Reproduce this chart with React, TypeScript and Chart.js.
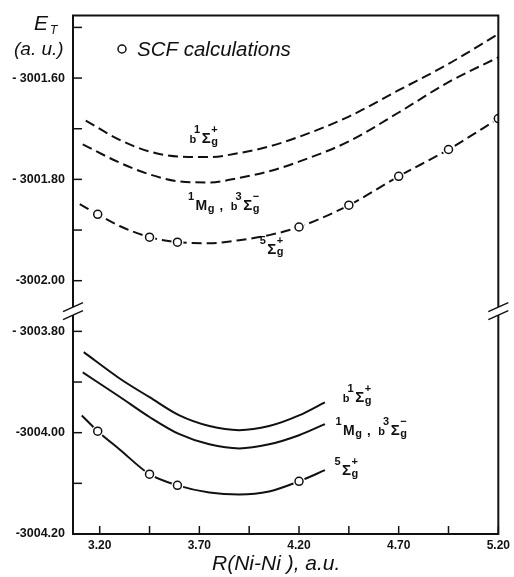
import React, { useEffect, useRef } from "react";
import { Chart, registerables } from "chart.js";

Chart.register(...registerables);

// ---------------- data ----------------
// axis ticks
const X_TICKS = [3.2, 3.45, 3.7, 3.95, 4.2, 4.45, 4.7, 4.95, 5.2];
const X_TICK_LABELS = ["3.20", "", "3.70", "", "4.20", "", "4.70", "", "5.20"];
const Y_TICKS = [-3001.5, -3001.6, -3001.7, -3001.8, -3001.9, -3002.0, -3003.8, -3003.9, -3004.0, -3004.1, -3004.2];
const Y_TICK_LABELS = ["", "- 3001.60", "", "- 3001.80", "", "-3002.00", "- 3003.80", "", "-3004.00", "", "-3004.20"];

// upper panel (dashed curves)
const R_UP_B1 = [3.13, 3.3, 3.45, 3.6, 3.75, 3.9, 4.05, 4.2, 4.45, 4.7, 4.95, 5.2];
const E_UP_B1 = [-3001.684, -3001.722, -3001.745, -3001.755, -3001.756, -3001.748, -3001.735, -3001.716, -3001.676, -3001.624, -3001.572, -3001.513];
const R_UP_MG = [3.115, 3.3, 3.45, 3.6, 3.75, 3.9, 4.05, 4.2, 4.45, 4.7, 4.95, 5.2];
const E_UP_MG = [-3001.731, -3001.767, -3001.79, -3001.804, -3001.806, -3001.797, -3001.784, -3001.765, -3001.725, -3001.668, -3001.608, -3001.559];
const R_UP_5 = [3.1, 3.19, 3.3, 3.45, 3.59, 3.75, 3.9, 4.05, 4.2, 4.45, 4.7, 4.95, 5.2];
const E_UP_5 = [-3001.849, -3001.869, -3001.892, -3001.914, -3001.924, -3001.926, -3001.92, -3001.91, -3001.894, -3001.851, -3001.794, -3001.741, -3001.68];

// lower panel (solid curves)
const R_LO_B1 = [3.12, 3.3, 3.45, 3.6, 3.75, 3.9, 4.05, 4.2, 4.33];
const E_LO_B1 = [-3003.841, -3003.893, -3003.93, -3003.966, -3003.987, -3003.995, -3003.987, -3003.966, -3003.94];
const R_LO_MG = [3.115, 3.3, 3.45, 3.6, 3.75, 3.9, 4.05, 4.2, 4.33];
const E_LO_MG = [-3003.881, -3003.929, -3003.969, -3004.003, -3004.023, -3004.031, -3004.023, -3004.005, -3003.983];
const R_LO_5 = [3.11, 3.19, 3.3, 3.45, 3.59, 3.75, 3.9, 4.05, 4.2, 4.33];
const E_LO_5 = [-3003.966, -3003.997, -3004.033, -3004.082, -3004.104, -3004.118, -3004.122, -3004.116, -3004.096, -3004.074];

// SCF calculation points
const SCF_R_UP = [3.19, 3.45, 3.59, 4.2, 4.45, 4.7, 4.95, 5.2];
const SCF_E_UP = [-3001.869, -3001.914, -3001.924, -3001.894, -3001.851, -3001.794, -3001.741, -3001.68];
const SCF_R_LO = [3.19, 3.45, 3.59, 4.2];
const SCF_E_LO = [-3003.997, -3004.082, -3004.104, -3004.096];

// curve labels: tokens [base, superscript, subscript], anchored at (R, E)
const TERM_LABELS = [
  { tokens: [["b", "1", ""], ["Σ", "+", "g"]], r: 3.65, e: -3001.729 },
  { tokens: [["", "1", ""], ["M", "", "g"], [" ,  ", "", ""], ["b", "3", ""], ["Σ", "−", "g"]], r: 3.64, e: -3001.861 },
  { tokens: [["", "5", ""], ["Σ", "+", "g"]], r: 4.0, e: -3001.947 },
  { tokens: [["b", "1", ""], ["Σ", "+", "g"]], r: 4.42, e: -3003.94 },
  { tokens: [["", "1", ""], ["M", "", "g"], [" ,  ", "", ""], ["b", "3", ""], ["Σ", "−", "g"]], r: 4.38, e: -3004.005 },
  { tokens: [["", "5", ""], ["Σ", "+", "g"]], r: 4.375, e: -3004.084 },
];

// ---------------- axis break mapping ----------------
const BREAK_SHIFT = 1.7; // lower panel drawn 1.7 a.u. higher on a continuous axis
const AXIS_BREAK = -3002.06; // display value where the axis is broken
const toDisp = (e: number) => (e < -3003 ? e + BREAK_SHIFT : e);

const INK = "#111";
const FONT = "'Liberation Sans', Arial, sans-serif";

const pts = (R: number[], E: number[]) => R.map((r, i) => ({ x: r, y: toDisp(E[i]) }));

function drawTerm(ctx: CanvasRenderingContext2D, x: number, y: number, tokens: string[][]) {
  let cx = x;
  ctx.textBaseline = "alphabetic";
  ctx.textAlign = "left";
  for (const [base, sup, sub] of tokens) {
    let w = 0;
    if (base) {
      const size = base === "Σ" ? 15 : base === "M" ? 14 : base === "b" ? 11 : 13;
      ctx.font = `bold ${size}px ${FONT}`;
      ctx.fillText(base, cx, y);
      w = ctx.measureText(base).width;
    }
    ctx.font = `bold 11px ${FONT}`;
    let sw = 0;
    const sx = base === "b" ? cx + w - 2 : cx + w + 0.5;
    if (sup) {
      ctx.fillText(sup, sx, y - 10);
      sw = Math.max(sw, ctx.measureText(sup).width);
    }
    if (sub) {
      ctx.fillText(sub, sx, y + 1.5);
      sw = Math.max(sw, ctx.measureText(sub).width);
    }
    cx = Math.max(cx + w, sx + sw) + (sup || sub ? 1.5 : 0);
  }
}

const decorPlugin = {
  id: "decor",
  afterDraw(chart: any) {
    const ctx: CanvasRenderingContext2D = chart.ctx;
    const xs = chart.scales.x;
    const ys = chart.scales.y;
    const { left, right, top, bottom } = chart.chartArea;
    ctx.save();
    ctx.strokeStyle = INK;
    ctx.fillStyle = INK;
    ctx.lineCap = "butt";

    // frame with axis break
    const by = ys.getPixelForValue(AXIS_BREAK);
    const gap = 4;
    ctx.lineWidth = 2;
    ctx.beginPath();
    ctx.moveTo(left - 1, top);
    ctx.lineTo(right + 1, top);
    ctx.moveTo(left - 1, bottom);
    ctx.lineTo(right + 1, bottom);
    ctx.moveTo(left, top);
    ctx.lineTo(left, by - gap);
    ctx.moveTo(left, by + gap);
    ctx.lineTo(left, bottom);
    ctx.moveTo(right, top);
    ctx.lineTo(right, by - gap);
    ctx.moveTo(right, by + gap);
    ctx.lineTo(right, bottom);
    ctx.stroke();

    ctx.lineWidth = 1.5;
    for (const x0 of [left, right]) {
      for (const o of [-gap, gap]) {
        ctx.beginPath();
        ctx.moveTo(x0 - 10, by + o + 4.5);
        ctx.lineTo(x0 + 10, by + o - 4.5);
        ctx.stroke();
      }
    }

    // inward tick marks
    ctx.lineWidth = 1.5;
    Y_TICKS.forEach((v) => {
      const y = ys.getPixelForValue(toDisp(v));
      if (y >= bottom - 1) return;
      ctx.beginPath();
      ctx.moveTo(left, y);
      ctx.lineTo(left + 9, y);
      ctx.stroke();
    });
    X_TICKS.forEach((v) => {
      const x = xs.getPixelForValue(v);
      ctx.beginPath();
      ctx.moveTo(x, bottom);
      ctx.lineTo(x, bottom - 8);
      ctx.stroke();
    });

    // axis titles
    ctx.textAlign = "left";
    ctx.textBaseline = "alphabetic";
    ctx.font = `italic 21px ${FONT}`;
    ctx.fillText("E", 34, 30);
    ctx.font = `italic 12px ${FONT}`;
    ctx.fillText("T", 50, 34);
    ctx.font = `italic 19px ${FONT}`;
    ctx.fillText("(a. u.)", 14, 55);
    ctx.font = `italic 21px ${FONT}`;
    ctx.fillText("R(Ni-Ni ), a.u.", 212, 570);

    // legend
    ctx.lineWidth = 1.5;
    ctx.beginPath();
    ctx.arc(122, 49, 4, 0, Math.PI * 2);
    ctx.fillStyle = "#fff";
    ctx.fill();
    ctx.stroke();
    ctx.fillStyle = INK;
    ctx.font = `italic 20.5px ${FONT}`;
    ctx.fillText("SCF calculations", 137, 56);

    // curve labels
    TERM_LABELS.forEach((l) => {
      drawTerm(ctx, xs.getPixelForValue(l.r), ys.getPixelForValue(toDisp(l.e)), l.tokens);
    });
    ctx.restore();
  },
};

export default function App() {
  const ref = useRef<HTMLCanvasElement | null>(null);

  useEffect(() => {
    if (!ref.current) return;
    const dashed = (label: string, R: number[], E: number[]) => ({
      label,
      data: pts(R, E),
      borderColor: INK,
      borderWidth: 2,
      borderDash: [10, 5],
      pointRadius: 0,
      fill: false,
      cubicInterpolationMode: "monotone",
      order: 3,
    });
    const solid = (label: string, R: number[], E: number[]) => ({
      label,
      data: pts(R, E),
      borderColor: INK,
      borderWidth: 2,
      pointRadius: 0,
      fill: false,
      cubicInterpolationMode: "monotone",
      order: 3,
    });
    const scfData = [...pts(SCF_R_UP, SCF_E_UP), ...pts(SCF_R_LO, SCF_E_LO)];

    const chart = new Chart(ref.current, {
      type: "line",
      data: {
        datasets: [
          dashed("b1Σg+ (upper)", R_UP_B1, E_UP_B1),
          dashed("1Mg, b3Σg- (upper)", R_UP_MG, E_UP_MG),
          dashed("5Σg+ (upper)", R_UP_5, E_UP_5),
          solid("b1Σg+ (lower)", R_LO_B1, E_LO_B1),
          solid("1Mg, b3Σg- (lower)", R_LO_MG, E_LO_MG),
          solid("5Σg+ (lower)", R_LO_5, E_LO_5),
          {
            label: "halo",
            data: scfData,
            showLine: false,
            pointRadius: 6,
            pointBorderWidth: 0,
            pointBackgroundColor: "#fff",
            pointBorderColor: "#fff",
            order: 1,
          },
          {
            label: "SCF calculations",
            data: scfData,
            showLine: false,
            pointRadius: 4,
            pointBorderWidth: 1.5,
            pointBackgroundColor: "#fff",
            pointBorderColor: INK,
            order: 0,
          },
        ] as any,
      },
      options: {
        animation: false,
        responsive: false,
        maintainAspectRatio: false,
        layout: { padding: { top: 15, right: 12, left: 8, bottom: 0 } },
        plugins: { legend: { display: false }, tooltip: { enabled: false } },
        scales: {
          x: {
            type: "linear",
            min: 3.066,
            max: 5.2,
            grid: { display: false, drawTicks: false },
            border: { display: false },
            afterBuildTicks: (s: any) => {
              s.ticks = X_TICKS.map((v) => ({ value: v }));
            },
            afterFit: (s: any) => {
              s.height = 43;
            },
            ticks: {
              autoSkip: false,
              maxRotation: 0,
              padding: 4,
              color: INK,
              font: { family: FONT, size: 12, weight: "bold" },
              callback: (_v: any, i: number) => X_TICK_LABELS[i],
            },
          },
          y: {
            type: "linear",
            min: -3002.5,
            max: -3001.4765,
            grid: { display: false, drawTicks: false },
            border: { display: false },
            afterBuildTicks: (s: any) => {
              s.ticks = Y_TICKS.map((v) => ({ value: toDisp(v) }));
            },
            afterFit: (s: any) => {
              s.width = 65;
            },
            ticks: {
              autoSkip: false,
              padding: 8,
              color: INK,
              font: { family: FONT, size: 12.5, weight: "bold" },
              callback: (_v: any, i: number) => Y_TICK_LABELS[i],
            },
          },
        },
      } as any,
      plugins: [decorPlugin],
    });
    return () => chart.destroy();
  }, []);

  return (
    <canvas
      ref={ref}
      width={514}
      height={577}
      style={{ position: "fixed", left: 0, top: 0, width: 514, height: 577, background: "#fff" }}
    />
  );
}
